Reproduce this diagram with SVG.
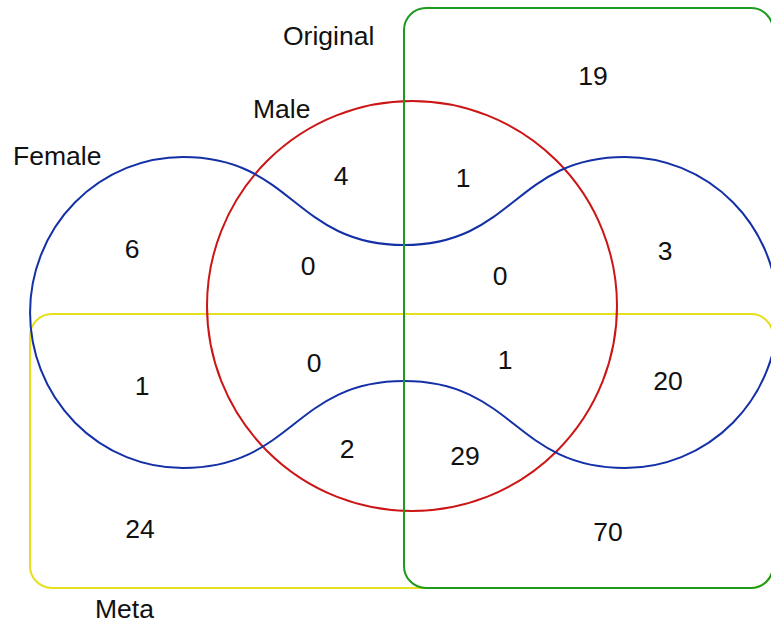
<svg xmlns="http://www.w3.org/2000/svg" width="771" height="625" viewBox="0 0 771 625">
<style>
.s{fill:none;stroke-width:2}
text{font-family:"Liberation Sans",Arial,sans-serif;font-size:26.5px;fill:#111}
.n{text-anchor:middle}
</style>
<rect width="771" height="625" fill="#ffffff"/>
<g id="meta">
<rect class="s" x="30" y="314" width="743" height="274" rx="22" ry="22" stroke="#e4e01e"/>
<text x="95" y="618">Meta</text>
</g>
<g id="male">
<circle class="s" cx="412" cy="306" r="205" stroke="#cc1616"/>
<text x="253" y="118">Male</text>
</g>
<g id="female">
<path class="s" stroke="#1430a6" d="M404,245 C294,245 293,157 183,157 A153 155.5 0 0 0 183 468 C293,468 294,381 404,381 C514,381 515,468 625,468 A153 155.5 0 0 0 625 157 C515,157 514,245 404,245 Z"/>
<text x="13" y="165">Female</text>
</g>
<g id="original">
<rect class="s" x="404" y="8" width="369" height="580" rx="22" ry="22" stroke="#1e9a1e"/>
<text x="283" y="45">Original</text>
</g>
<g id="connectors"></g>
<g id="counts">
<text class="n" x="593" y="85">19</text>
<text class="n" x="341" y="185">4</text>
<text class="n" x="463" y="187">1</text>
<text class="n" x="132" y="258">6</text>
<text class="n" x="665" y="260">3</text>
<text class="n" x="308" y="275">0</text>
<text class="n" x="500" y="285">0</text>
<text class="n" x="314" y="372">0</text>
<text class="n" x="505" y="369">1</text>
<text class="n" x="142" y="395">1</text>
<text class="n" x="668" y="390">20</text>
<text class="n" x="347" y="458">2</text>
<text class="n" x="465" y="465">29</text>
<text class="n" x="140" y="538">24</text>
<text class="n" x="608" y="541">70</text>
</g>
</svg>
